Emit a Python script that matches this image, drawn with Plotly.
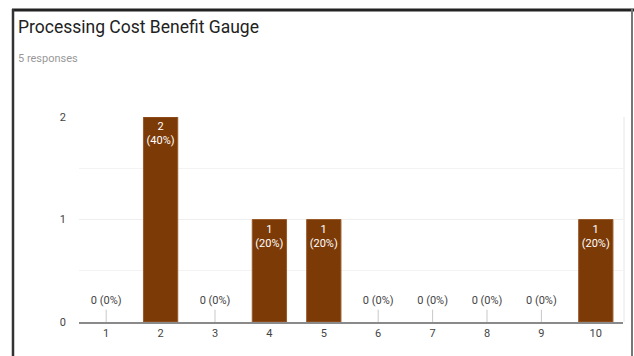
import plotly.graph_objects as go

categories = ["1", "2", "3", "4", "5", "6", "7", "8", "9", "10"]
counts = [0, 2, 0, 1, 1, 0, 0, 0, 0, 1]
total_responses = 5
title_text = "Processing Cost Benefit Gauge"
subtitle_text = "5 responses"
y_ticks = [0, 1, 2]

BAR_COLOR = "#7c3a06"
pct = [round(100 * c / total_responses) for c in counts]

nonzero_x = [c for c, v in zip(categories, counts) if v > 0]
nonzero_y = [v for v in counts if v > 0]
nonzero_text = [f"{v}<br>({p}%)" for v, p in zip(counts, pct) if v > 0]
zero_x = [c for c, v in zip(categories, counts) if v == 0]
zero_text = [f"{v} ({p}%)" for v, p in zip(counts, pct) if v == 0]

FONT = "Roboto"
fig = go.Figure()
fig.add_trace(go.Bar(
    x=nonzero_x, y=nonzero_y, text=nonzero_text, textposition="inside",
    insidetextanchor="end", textangle=0,
    textfont=dict(color="white", size=11, family=FONT),
    marker=dict(color=BAR_COLOR, line=dict(color="#9a5a2a", width=1)),
    width=0.63, hoverinfo="skip",
))
# stems for zero-valued categories
stem_x, stem_y = [], []
for c in zero_x:
    stem_x += [c, c, None]
    stem_y += [0, 0.12, None]
fig.add_trace(go.Scatter(
    x=stem_x, y=stem_y, mode="lines",
    line=dict(color="#c8c8c8", width=1), hoverinfo="skip",
))
fig.add_trace(go.Scatter(
    x=zero_x, y=[0.2] * len(zero_x), mode="text", text=zero_text,
    textposition="middle center",
    textfont=dict(color="#444", size=11, family=FONT), hoverinfo="skip",
))

L, R, T, B = 79, 11, 117, 34
W, H = 634, 356
pw, ph = W - L - R, H - T - B

def px(x):
    return (x - L) / pw

def py(y):
    return (H - B - y) / ph

fig.update_layout(
    width=W, height=H, showlegend=False,
    margin=dict(l=L, r=R, t=T, b=B),
    paper_bgcolor="white", plot_bgcolor="white",
    font=dict(family=FONT, color="#444", size=11),
    bargap=0.37,
    xaxis=dict(type="category", categoryorder="array", categoryarray=categories,
               showline=True, linecolor="#8a8a8a", linewidth=2,
               ticks="", showgrid=False, tickfont=dict(size=11, color="#444"),
               fixedrange=True),
    yaxis=dict(range=[0, 2], tickvals=y_ticks, showgrid=True, gridcolor="#eeeeee",
               gridwidth=1, zeroline=False, ticks="", ticklabelstandoff=12,
               minor=dict(dtick=0.5, showgrid=True, gridcolor="#f3f3f3"),
               tickfont=dict(size=11, color="#444"), fixedrange=True),
    annotations=[
        dict(text=title_text, xref="paper", yref="paper", x=px(16), y=py(27),
             xanchor="left", yanchor="middle", showarrow=False,
             font=dict(size=17.5, color="#222", family=FONT)),
        dict(text=subtitle_text, xref="paper", yref="paper", x=px(16), y=py(59),
             xanchor="left", yanchor="middle", showarrow=False,
             font=dict(size=11, color="#999", family=FONT)),
    ],
    shapes=[
        dict(type="line", xref="paper", yref="paper", x0=px(12), x1=px(634),
             y0=py(10), y1=py(10), line=dict(color="#222", width=3)),
        dict(type="line", xref="paper", yref="paper", x0=px(13), x1=px(13),
             y0=py(9), y1=py(360), line=dict(color="#333", width=2.5)),
        dict(type="line", xref="paper", yref="paper", x0=px(632), x1=px(632),
             y0=py(9), y1=py(360), line=dict(color="#777", width=2)),
        dict(type="line", xref="paper", yref="paper", x0=px(624), x1=px(624),
             y0=py(117), y1=py(322), line=dict(color="#e6e6e6", width=1)),
    ],
)
fig.write_html("out.html")
